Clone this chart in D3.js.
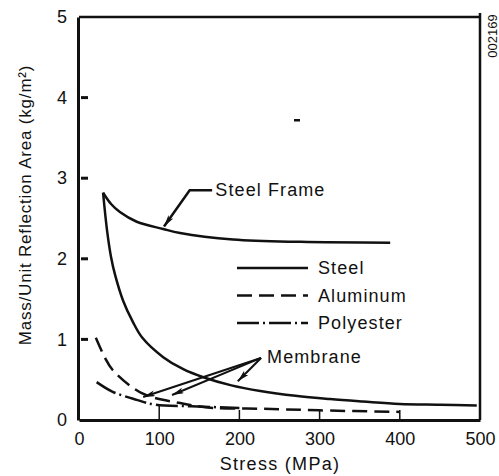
<!DOCTYPE html>
<html>
	<head>
		<title>Mass vs Stress</title>
		<style type="text/css">
			body { margin: 0; background: #fff; }
			text { font-family: "Liberation Sans", Arial, Helvetica, sans-serif; fill: #111; }
		</style>
		<script src="https://cdn.jsdelivr.net/npm/d3@7/dist/d3.min.js"></script>
		<script type="text/javascript">
		// stress (MPa) / mass per unit area (kg/m2)
		var steelFrameStress = [30, 40, 51, 72, 105, 126, 192, 276, 388];
		var steelFrameMass = [2.82, 2.68, 2.58, 2.46, 2.37, 2.32, 2.24, 2.21, 2.20];
		var steelStress = [30, 35, 40, 45, 55, 67, 79, 105, 130, 155, 190, 226, 270, 313, 354, 400, 450, 496];
		var steelMass = [2.82, 2.35, 2.02, 1.80, 1.48, 1.22, 1.02, 0.78, 0.63, 0.53, 0.43, 0.36, 0.30, 0.26, 0.23, 0.20, 0.19, 0.18];
		var aluminumStress = [21, 32, 42, 79, 126, 167, 226, 300, 400];
		var aluminumMass = [1.02, 0.78, 0.62, 0.33, 0.21, 0.15, 0.14, 0.12, 0.10];
		var polyesterStress = [22, 42, 72, 95, 140, 200];
		var polyesterMass = [0.47, 0.35, 0.25, 0.19, 0.17, 0.15];
		var xTicks = [0, 100, 200, 300, 400, 500];
		var yTicks = [0, 1, 2, 3, 4, 5];
		var legendNames = ["Steel", "Aluminum", "Polyester"];
		// annotation anchors, in data units
		var frameLabel = [170, 2.85];
		var frameLeader = [[166, 2.85], [138, 2.85], [106, 2.40]];
		var membraneFrom = [227, 0.77];
		var membraneTargets = [[80, 0.285], [116, 0.31], [198, 0.48]];

			window.onload = function() {
				var svg = d3.select("#chart").append("svg")
					.attr("width", 499)
					.attr("height", 476);
				var x = d3.scaleLinear().domain([0, 500]).range([79, 480]);
				var y = d3.scaleLinear().domain([0, 5]).range([420, 17]);

				svg.append("defs").append("marker")
					.attr("id", "head")
					.attr("viewBox", "0 0 12 6")
					.attr("refX", 12).attr("refY", 3)
					.attr("markerWidth", 12).attr("markerHeight", 6)
					.attr("markerUnits", "userSpaceOnUse")
					.attr("orient", "auto")
					.append("path").attr("d", "M0,0L12,3L0,6L3,3Z").attr("fill", "#111");

				// frame
				svg.append("path")
					.attr("d", "M" + x(0) + "," + y(5) + "L" + x(500) + "," + y(5) + "M" + x(500) + "," + (y(5) - 4) + "L" + x(500) + "," + y(0))
					.attr("stroke", "#111").attr("stroke-width", 2.5).attr("fill", "none");

				var xAxis = svg.append("g").attr("transform", "translate(0," + y(0) + ")")
					.call(d3.axisBottom(x).tickValues(xTicks).tickSize(0).tickPadding(12));
				var yAxis = svg.append("g").attr("transform", "translate(" + (x(0) - 1) + ",0)")
					.call(d3.axisLeft(y).tickValues(yTicks).tickFormat(d3.format("d")).tickSize(0).tickPadding(11));
				[xAxis, yAxis].forEach(function(g) {
					g.select(".domain").attr("stroke", "#111").attr("stroke-width", 3);
					g.selectAll("text").attr("font-size", 18).attr("fill", "#111")
						.style("font-family", "'Liberation Sans', Arial, sans-serif");
				});

				// short inner ticks
				svg.selectAll(".ytick").data(yTicks.slice(1, 5)).enter().append("line")
					.attr("x1", x(0) + 2).attr("x2", x(0) + 9)
					.attr("y1", function(d) { return y(d); }).attr("y2", function(d) { return y(d); })
					.attr("stroke", "#111").attr("stroke-width", 3);
				svg.selectAll(".xtick").data(xTicks.slice(1, 5)).enter().append("line")
					.attr("x1", function(d) { return x(d); }).attr("x2", function(d) { return x(d); })
					.attr("y1", y(0)).attr("y2", function(d) { return d == 100 ? y(0.19) : y(0) - 10; })
					.attr("stroke", "#111").attr("stroke-width", 1.5);

				var line = d3.line()
					.x(function(d) { return x(d[0]); })
					.y(function(d) { return y(d[1]); })
					.curve(d3.curveCatmullRom.alpha(0.5));
				function curve(xs, ys, dash) {
					svg.append("path")
						.datum(d3.zip(xs, ys))
						.attr("d", line)
						.attr("fill", "none")
						.attr("stroke", "#111")
						.attr("stroke-width", 2.5)
						.attr("stroke-dasharray", dash);
				}
				var dashes = [null, "15,7", "22,4,2,4"];
				curve(steelFrameStress, steelFrameMass, null);
				curve(steelStress, steelMass, dashes[0]);
				curve(aluminumStress, aluminumMass, dashes[1]);
				curve(polyesterStress, polyesterMass, dashes[2]);

				// legend
				legendNames.forEach(function(name, i) {
					var ly = 268 + i * 27.5;
					svg.append("line")
						.attr("x1", 237).attr("x2", 308).attr("y1", ly).attr("y2", ly)
						.attr("stroke", "#111").attr("stroke-width", 2.5)
						.attr("stroke-dasharray", dashes[i]);
					svg.append("text").attr("x", 318).attr("y", ly + 6)
						.attr("font-size", 18).attr("letter-spacing", 1.1).text(name);
				});

				// Steel Frame label
				svg.append("text").attr("x", x(frameLabel[0])).attr("y", y(frameLabel[1]) + 6)
					.attr("font-size", 18).attr("letter-spacing", 1.1).text("Steel Frame");
				svg.append("path")
					.datum(frameLeader)
					.attr("d", d3.line().x(function(d) { return x(d[0]); }).y(function(d) { return y(d[1]); }))
					.attr("fill", "none").attr("stroke", "#111").attr("stroke-width", 2.5)
					.attr("marker-end", "url(#head)");

				// Membrane label
				svg.append("text").attr("x", x(membraneFrom[0]) + 6).attr("y", y(membraneFrom[1]) + 5)
					.attr("font-size", 18).attr("letter-spacing", 1.1).text("Membrane");
				svg.selectAll(".arrow").data(membraneTargets).enter().append("line")
					.attr("x1", x(membraneFrom[0])).attr("y1", y(membraneFrom[1]))
					.attr("x2", function(d) { return x(d[0]); }).attr("y2", function(d) { return y(d[1]); })
					.attr("stroke", "#111").attr("stroke-width", 2)
					.attr("marker-end", "url(#head)");

				// axis titles
				svg.append("text").attr("transform", "translate(31,205) rotate(-90)")
					.attr("text-anchor", "middle").attr("font-size", 17).attr("letter-spacing", 0.8)
					.text("Mass/Unit Reflection Area (kg/m²)");
				svg.append("text").attr("transform", "translate(280,470)")
					.attr("text-anchor", "middle").attr("font-size", 18).attr("letter-spacing", 1.3)
					.text("Stress (MPa)");

				// figure number on the margin
				svg.append("text").attr("transform", "translate(497,36) rotate(-90)")
					.attr("text-anchor", "middle").attr("font-size", 13).text("002169");
				svg.append("rect").attr("x", 294).attr("y", 119).attr("width", 6).attr("height", 2.5).attr("fill", "#111");
			}
		</script>
	</head>
	<body>
		<div id="chart"></div>
	</body>
</html>
